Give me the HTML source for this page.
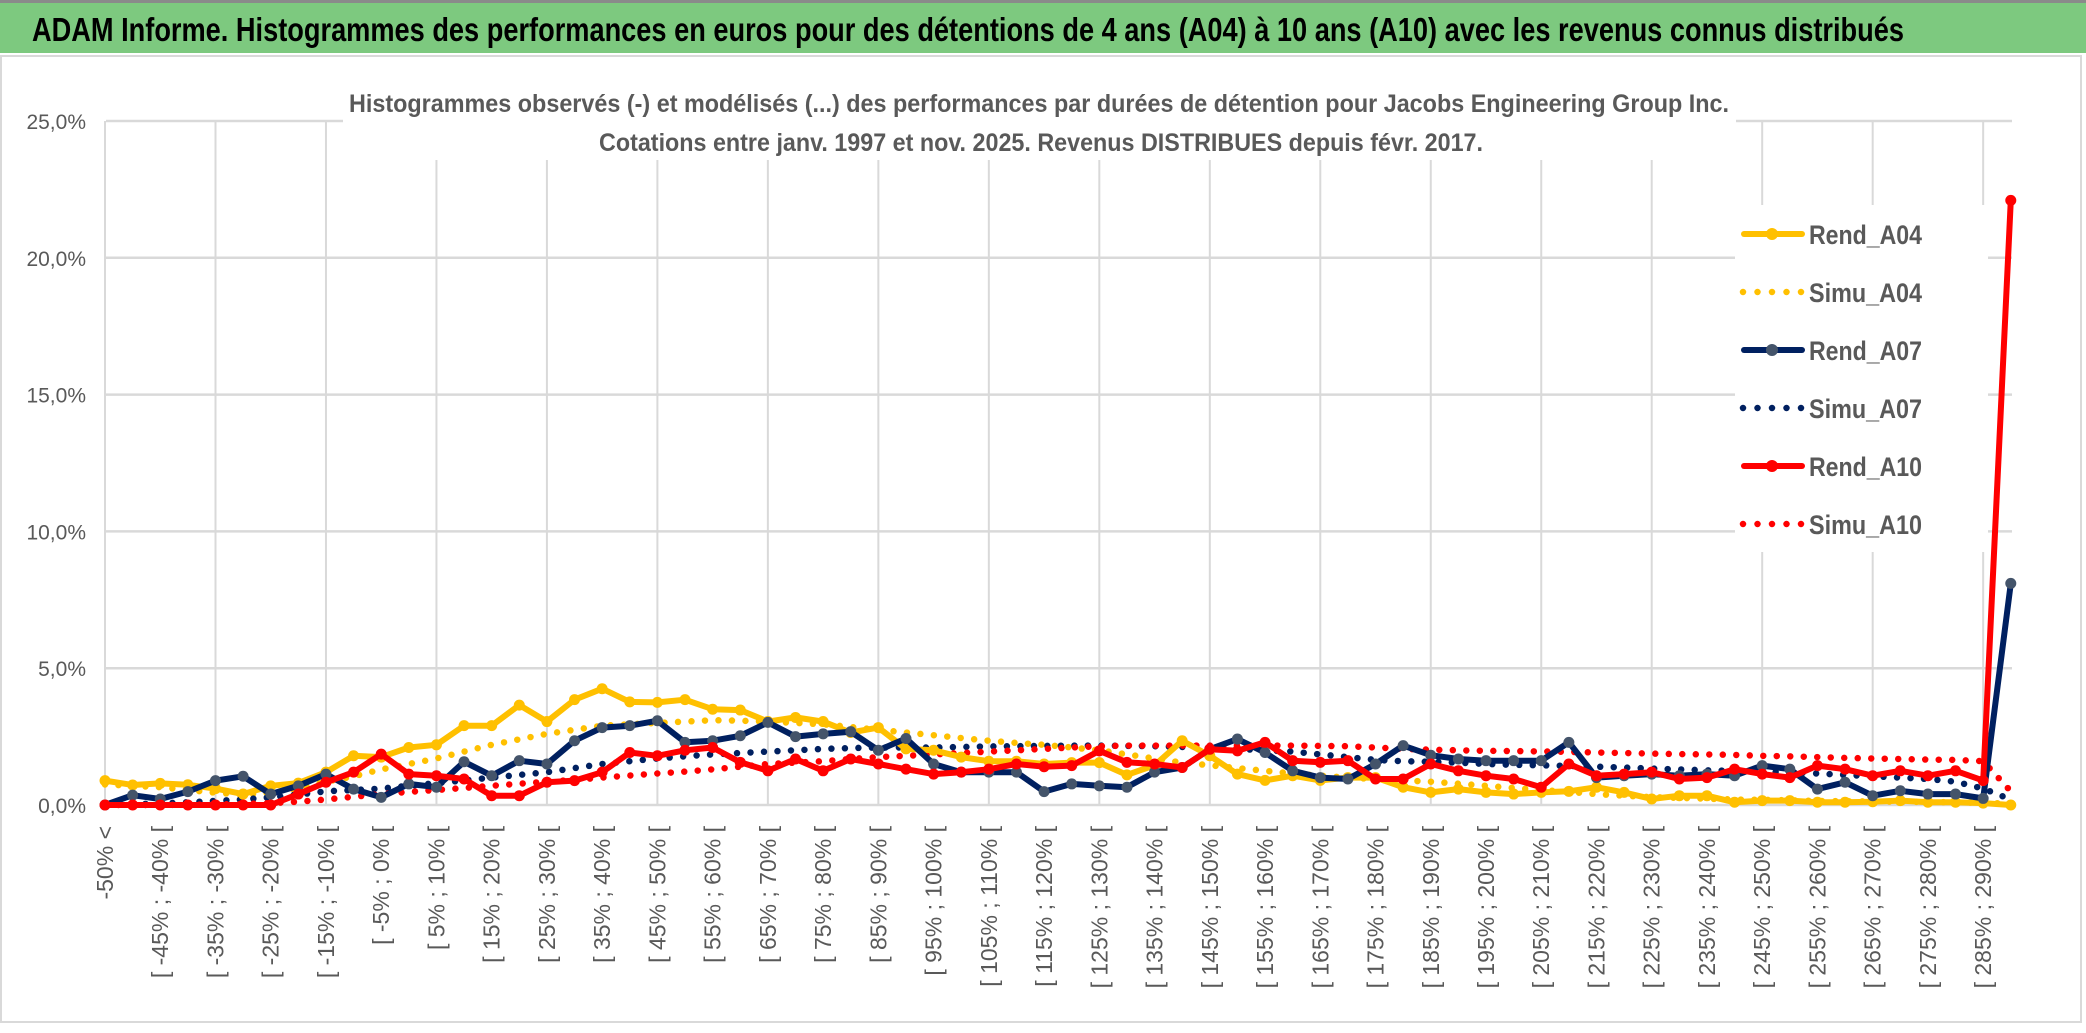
<!DOCTYPE html>
<html><head><meta charset="utf-8"><style>
html,body{margin:0;padding:0;background:#fff;}
svg{display:block;font-family:"Liberation Sans",sans-serif;}
</style></head><body>
<svg id="chart" width="2086" height="1033" viewBox="0 0 2086 1033">
<rect x="0" y="0" width="2086" height="1033" fill="#fff"/>
<rect x="0" y="0" width="2086" height="3" fill="#8a8a8a"/>
<rect x="0" y="3" width="2086" height="50" fill="#7dc97f"/>
<text x="32" y="41" font-size="33" font-weight="bold" fill="#000" textLength="1872" lengthAdjust="spacingAndGlyphs">ADAM Informe. Histogrammes des performances en euros pour des détentions de 4 ans (A04) à 10 ans (A10) avec les revenus connus distribués</text>
<rect x="1" y="56" width="2080" height="966" fill="none" stroke="#d9d9d9" stroke-width="2"/>
<g id="grid"></g>
<rect x="343" y="76" width="1393" height="84" fill="#fff"/>
<rect x="1735" y="205" width="253" height="347" fill="#fff"/>
<text x="1039" y="112" font-size="25" font-weight="bold" fill="#595959" text-anchor="middle" textLength="1380" lengthAdjust="spacingAndGlyphs">Histogrammes observés (-) et modélisés (...) des performances par durées de détention pour Jacobs Engineering Group Inc.</text>
<text x="1041" y="151" font-size="25" font-weight="bold" fill="#595959" text-anchor="middle" textLength="884" lengthAdjust="spacingAndGlyphs">Cotations entre janv. 1997 et nov. 2025. Revenus DISTRIBUES depuis févr. 2017.</text>
<g id="axes"></g>
<g id="series"></g>
<g id="legend"></g>
</svg>
<script>
const categories = ["-50% <"];
for (let i = 1; i < 70; i++) { const a = -55 + 5 * i, b = -50 + 5 * i; categories.push("[ " + a + "% ; " + b + "% ["); }
const yTicks = [0, 5, 10, 15, 20, 25];
const yTickLabels = ["0,0%", "5,0%", "10,0%", "15,0%", "20,0%", "25,0%"];
const rendA04 = [0.89,0.73,0.79,0.74,0.6,0.4,0.7,0.8,1.2,1.8,1.75,2.1,2.2,2.9,2.9,3.65,3.05,3.85,4.25,3.77,3.75,3.85,3.5,3.47,3.05,3.2,3.05,2.65,2.83,2.05,2.0,1.75,1.6,1.6,1.5,1.55,1.55,1.1,1.45,2.35,1.8,1.13,0.9,1.07,0.9,1.0,1.0,0.65,0.46,0.58,0.46,0.4,0.46,0.5,0.65,0.46,0.22,0.34,0.34,0.1,0.16,0.16,0.1,0.1,0.12,0.16,0.1,0.1,0.07,0.0];
const simuA04 = [0.75,0.7,0.65,0.55,0.45,0.38,0.45,0.6,0.85,1.05,1.3,1.5,1.7,1.95,2.2,2.4,2.6,2.75,2.9,2.95,3.0,3.05,3.1,3.08,3.05,3.0,2.95,2.85,2.75,2.65,2.55,2.45,2.35,2.27,2.2,2.1,2.0,1.85,1.7,1.55,1.45,1.35,1.25,1.15,1.07,1.0,0.95,0.9,0.85,0.78,0.7,0.62,0.55,0.48,0.4,0.34,0.29,0.26,0.23,0.2,0.19,0.17,0.15,0.14,0.13,0.12,0.11,0.1,0.08,0.05];
const rendA07 = [0.0,0.36,0.22,0.49,0.89,1.05,0.4,0.7,1.13,0.58,0.28,0.77,0.65,1.58,1.07,1.62,1.5,2.35,2.83,2.9,3.08,2.29,2.35,2.53,3.02,2.5,2.6,2.68,2.0,2.43,1.5,1.2,1.2,1.2,0.49,0.77,0.7,0.65,1.2,1.37,2.04,2.41,1.92,1.25,1.0,0.95,1.5,2.17,1.82,1.68,1.62,1.62,1.62,2.29,1.0,1.07,1.13,1.07,1.13,1.07,1.44,1.31,0.58,0.83,0.34,0.52,0.4,0.4,0.24,8.1];
const simuA07 = [0.0,0.03,0.06,0.1,0.15,0.2,0.28,0.38,0.5,0.55,0.6,0.7,0.8,0.9,1.0,1.1,1.2,1.35,1.5,1.6,1.7,1.78,1.85,1.9,1.95,2.0,2.05,2.08,2.1,2.1,2.1,2.12,2.14,2.15,2.16,2.17,2.17,2.16,2.15,2.12,2.1,2.05,2.0,1.95,1.85,1.75,1.65,1.6,1.58,1.55,1.5,1.47,1.45,1.43,1.4,1.37,1.33,1.3,1.27,1.25,1.22,1.2,1.15,1.1,1.05,1.0,0.95,0.85,0.6,0.2];
const rendA10 = [0,0,0,0,0,0,0,0.4,0.83,1.2,1.86,1.13,1.07,0.95,0.34,0.34,0.83,0.89,1.2,1.92,1.8,2.0,2.1,1.56,1.25,1.68,1.25,1.68,1.5,1.31,1.13,1.2,1.31,1.5,1.4,1.44,1.98,1.56,1.5,1.37,2.04,1.98,2.29,1.62,1.56,1.62,0.95,0.95,1.5,1.25,1.07,0.95,0.65,1.5,1.07,1.13,1.2,0.95,1.0,1.31,1.13,1.0,1.44,1.31,1.07,1.25,1.07,1.25,0.89,22.1];
const simuA10 = [0,0,0,0.01,0.02,0.04,0.07,0.12,0.2,0.3,0.4,0.48,0.55,0.62,0.7,0.78,0.85,0.92,1.0,1.08,1.15,1.22,1.3,1.4,1.5,1.55,1.6,1.68,1.75,1.8,1.85,1.9,1.95,2.0,2.05,2.1,2.15,2.17,2.17,2.17,2.17,2.17,2.17,2.17,2.16,2.15,2.1,2.05,2.02,2.0,1.98,1.97,1.96,1.94,1.92,1.9,1.88,1.86,1.85,1.83,1.8,1.78,1.75,1.72,1.7,1.68,1.66,1.65,1.6,0.5];

const NS = "http://www.w3.org/2000/svg";
const X0 = 105, STEP = 27.62, Y0 = 805, Y25 = 121;
function xs(i) { return X0 + i * STEP; }
function ys(v) { return Y0 - v * (Y0 - Y25) / 25; }
function mk(tag, attrs, parent) { const e = document.createElementNS(NS, tag); for (const k in attrs) e.setAttribute(k, attrs[k]); parent.appendChild(e); return e; }

const grid = document.getElementById("grid");
for (const t of yTicks) {
  const l = mk("line", { x1: X0 + 1, x2: 2012, y1: ys(t), y2: ys(t), stroke: "#d9d9d9", "stroke-width": 2.5 }, grid);
  
  
}
for (let i = 0; i < categories.length; i += 4) {
  const l = mk("line", { x1: xs(i), x2: xs(i), y1: Y25, y2: Y0, stroke: "#d9d9d9", "stroke-width": 2 }, grid);
  
  
}
const axes = document.getElementById("axes");
yTicks.forEach((t, k) => {
  const tx = mk("text", { x: 86, y: ys(t) + 8, "font-size": 21, fill: "#595959", "text-anchor": "end" }, axes);
  tx.textContent = yTickLabels[k];
  
  
});
for (let i = 0; i < categories.length; i += 2) {
  const x = xs(i) + 8;
  const tx = mk("text", { x: x, y: 826, "font-size": 23, fill: "#595959", "text-anchor": "end", transform: "rotate(-90 " + x + " 826)" }, axes);
  tx.textContent = categories[i];
  
  
}
const series = document.getElementById("series");
function pts(arr) { return arr.map((v, i) => xs(i).toFixed(1) + "," + ys(v).toFixed(1)).join(" "); }
function dotted(arr, color, name) {
  const p = mk("polyline", { points: pts(arr), fill: "none", stroke: color, "stroke-width": 6.5, "stroke-linecap": "round", "stroke-dasharray": "0 13.5" }, series);
  
  
}
function solid(arr, color, mcol, name) {
  const g = mk("g", {}, series);
  
  
  mk("polyline", { points: pts(arr), fill: "none", stroke: color, "stroke-width": 6, "stroke-linejoin": "round" }, g);
  arr.forEach((v, i) => {
    const c = mk("circle", { cx: xs(i), cy: ys(v), r: 5.5, fill: mcol }, g);
    
    
  });
}
dotted(simuA04, "#ffc000", "simu-a04-line");
dotted(simuA07, "#002060", "simu-a07-line");
dotted(simuA10, "#ff0000", "simu-a10-line");
solid(rendA04, "#ffc000", "#ffc000", "rend-a04-line");
solid(rendA07, "#002060", "#44546a", "rend-a07-line");
solid(rendA10, "#ff0000", "#ff0000", "rend-a10-line");

const legend = document.getElementById("legend");
const legendItems = [["Rend_A04", "#ffc000", "#ffc000", false], ["Simu_A04", "#ffc000", null, true], ["Rend_A07", "#002060", "#44546a", false], ["Simu_A07", "#002060", null, true], ["Rend_A10", "#ff0000", "#ff0000", false], ["Simu_A10", "#ff0000", null, true]];
const legendY = [234, 292, 350, 408, 466, 524];
legendItems.forEach((it, k) => {
  const g = mk("g", {}, legend);
  
  
  const y = legendY[k];
  if (it[3]) {
    mk("line", { x1: 1743, x2: 1802, y1: y, y2: y, stroke: it[1], "stroke-width": 6.5, "stroke-linecap": "round", "stroke-dasharray": "0 14.5" }, g);
  } else {
    mk("line", { x1: 1744, x2: 1802, y1: y, y2: y, stroke: it[1], "stroke-width": 6, "stroke-linecap": "round" }, g);
    mk("circle", { cx: 1772, cy: y, r: 6, fill: it[2] }, g);
  }
  const tx = mk("text", { x: 1809, y: y + 10, "font-size": 27, "font-weight": "bold", fill: "#595959", textLength: 113, lengthAdjust: "spacingAndGlyphs" }, g);
  tx.textContent = it[0];
});
</script>
</body></html>
